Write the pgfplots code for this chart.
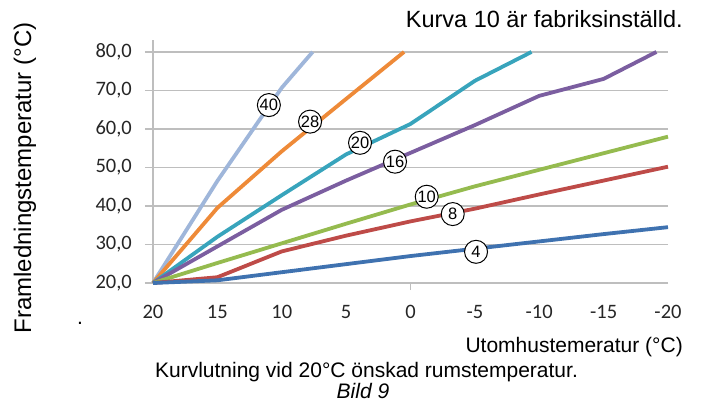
\documentclass[border=0pt]{standalone}
\usepackage{fontspec}
\setmainfont{Liberation Sans}
\newfontfamily\calibri{Carlito}
\usepackage{pgfplots}
\pgfplotsset{compat=1.18}
\definecolor{cA}{HTML}{3F72B0}
\definecolor{cB}{HTML}{BE4B48}
\definecolor{cC}{HTML}{95BB4F}
\definecolor{cD}{HTML}{7B5EA0}
\definecolor{cE}{HTML}{38A4BC}
\definecolor{cF}{HTML}{EE8A38}
\definecolor{cG}{HTML}{9FB6DA}
\definecolor{gridc}{HTML}{BEBEBE}
\begin{document}
\begin{tikzpicture}[x=1bp,y=1bp]
\path[use as bounding box] (-153,-122) rectangle (549,283);
\begin{axis}[
  at={(0,0)}, anchor=south west,
  scale only axis, width=515bp, height=243bp,
  x dir=reverse,
  xmin=-20, xmax=20, ymin=20, ymax=83.1,
  xtick={-20,-15,-10,-5,0,5,10,15,20},
  xticklabels={-20,-15,-10,-5,0,5,10,15,20},
  ytick={20,30,40,50,60,70,80},
  yticklabels={{20,0},{30,0},{40,0},{50,0},{60,0},{70,0},{80,0}},
  axis x line=bottom, axis y line=left,
  axis line style={-, draw=gridc, line width=1.3bp},
  ymajorgrids, grid style={gridc, line width=1.3bp},
  x tick style={draw=none},
  y tick style={draw=gridc, line width=1.3bp},
  tick align=outside, major tick length=8bp,
  extra x ticks={0}, extra x tick labels={},
  extra x tick style={x tick style={draw=gridc, line width=1.3bp}, major tick length=7bp, tick align=outside},
  ticklabel style={font=\calibri\fontsize{20.5bp}{24bp}\selectfont, text=black!85},
  xticklabel style={anchor=base, yshift=-27bp},
  yticklabel style={anchor=east, inner sep=0pt, xshift=-13bp},
  clip=false,
  every axis plot/.append style={line width=3.8bp, line join=round, no marks},
]
\addplot[cG] coordinates {(20,20) (15,46.5) (10,70.7) (7.6,80)};
\addplot[cF] coordinates {(20,20) (15,39.5) (10,54.2) (5,67.8) (0.5,80)};
\addplot[cE] coordinates {(20,20) (15,32) (10,42.8) (5,53.4) (0,61.3) (-5,72.5) (-9.4,80)};
\addplot[cD] coordinates {(20,20) (15,29.5) (10,39) (5,46.6) (0,53.8) (-5,61) (-10,68.6) (-15,73) (-19.1,80)};
\addplot[cC] coordinates {(20,20) (15,25.2) (10,30.3) (5,35.4) (0,40.4) (-5,45.1) (-10,49.4) (-15,53.7) (-20,58)};
\addplot[cB] coordinates {(20,20) (15,21.5) (10,28.2) (5,32.3) (0,36.0) (-5,39.3) (-10,43) (-15,46.6) (-20,50.2)};
\addplot[cA] coordinates {(20,20) (15,20.7) (10,22.8) (5,24.9) (0,27) (-5,28.9) (-10,30.8) (-15,32.7) (-20,34.5)};
\begin{scope}[every node/.style={circle, draw=black, line width=1bp, fill=white, inner sep=0pt, minimum size=23bp, font=\fontsize{16.5bp}{18bp}\selectfont}]
\node at (axis cs:11,66.2) {40};
\node at (axis cs:7.8,61.9) {28};
\node at (axis cs:3.92,56.4) {20};
\node at (axis cs:1.2,51.5) {16};
\node at (axis cs:-1.26,42.4) {10};
\node at (axis cs:-3.28,37.9) {8};
\node at (axis cs:-5.09,28.1) {4};
\end{scope}
\end{axis}
\node[rotate=90, font=\fontsize{24bp}{28bp}\selectfont, inner sep=0pt] at (-128,105) {Framledningstemperatur (°C)};
\node[anchor=base east, inner sep=0pt, font=\fontsize{23.5bp}{28bp}\selectfont] at (530,256) {Kurva 10 är fabriksinställd.};
\node[anchor=base east, inner sep=0pt, font=\fontsize{21bp}{25bp}\selectfont] at (530,-69) {Utomhustemeratur (°C)};
\node[anchor=base, inner sep=0pt, font=\fontsize{21bp}{25bp}\selectfont] at (213.5,-94) {Kurvlutning vid 20°C önskad rumstemperatur.};
\node[anchor=base, inner sep=0pt, font=\fontsize{21bp}{25bp}\selectfont\itshape] at (210,-115) {Bild 9};
\node[anchor=base, inner sep=0pt, font=\fontsize{21bp}{25bp}\selectfont] at (-73,-41) {.};
\end{tikzpicture}
\end{document}
